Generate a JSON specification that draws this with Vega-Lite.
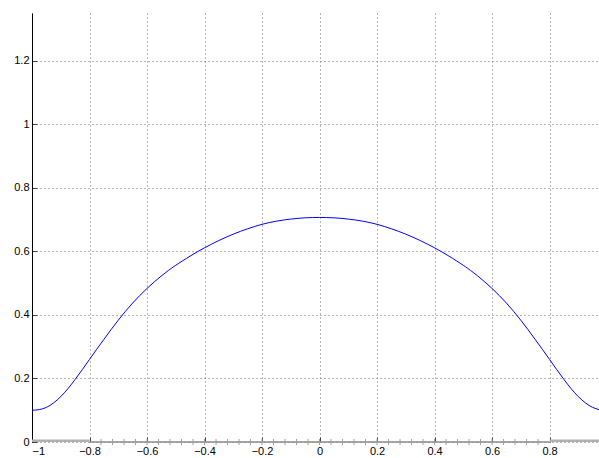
{
  "$schema": "https://vega.github.io/schema/vega-lite/v6.json",
  "autosize": {"type": "none"},
  "padding": {"left": 32, "top": 13, "right": 0, "bottom": 16},
  "width": 567,
  "height": 429,
  "background": "white",
  "config": {
    "view": {"stroke": null},
    "font": "Liberation Sans",
    "axis": {
      "labelFont": "Liberation Sans",
      "labelFontSize": 11,
      "labelColor": "#000000",
      "domainColor": "#000000",
      "domainWidth": 1,
      "tickColor": "#444444",
      "tickSize": -5,
      "tickWidth": 1,
      "labelPadding": 8,
      "format": "~g",
      "grid": true,
      "gridColor": "#6a6a6a",
      "gridDash": [1, 3],
      "gridWidth": 1,
      "title": null
    }
  },
  "datasets": {
    "curve": [
      {"x": -1.0, "y": 0.100},
      {"x": -0.975, "y": 0.102},
      {"x": -0.95, "y": 0.109},
      {"x": -0.925, "y": 0.123},
      {"x": -0.9, "y": 0.143},
      {"x": -0.875, "y": 0.168},
      {"x": -0.85, "y": 0.197},
      {"x": -0.825, "y": 0.228},
      {"x": -0.8, "y": 0.260},
      {"x": -0.775, "y": 0.292},
      {"x": -0.75, "y": 0.323},
      {"x": -0.725, "y": 0.354},
      {"x": -0.7, "y": 0.3835},
      {"x": -0.675, "y": 0.4115},
      {"x": -0.65, "y": 0.4375},
      {"x": -0.625, "y": 0.4615},
      {"x": -0.6, "y": 0.4835},
      {"x": -0.575, "y": 0.504},
      {"x": -0.55, "y": 0.523},
      {"x": -0.525, "y": 0.5405},
      {"x": -0.5, "y": 0.5565},
      {"x": -0.45, "y": 0.5855},
      {"x": -0.4, "y": 0.6115},
      {"x": -0.35, "y": 0.6345},
      {"x": -0.3, "y": 0.6545},
      {"x": -0.25, "y": 0.6715},
      {"x": -0.2, "y": 0.6855},
      {"x": -0.15, "y": 0.6955},
      {"x": -0.1, "y": 0.702},
      {"x": -0.05, "y": 0.706},
      {"x": 0.0, "y": 0.707},
      {"x": 0.05, "y": 0.706},
      {"x": 0.1, "y": 0.702},
      {"x": 0.15, "y": 0.6955},
      {"x": 0.2, "y": 0.6855},
      {"x": 0.25, "y": 0.6715},
      {"x": 0.3, "y": 0.6545},
      {"x": 0.35, "y": 0.6345},
      {"x": 0.4, "y": 0.6115},
      {"x": 0.45, "y": 0.5855},
      {"x": 0.5, "y": 0.5565},
      {"x": 0.525, "y": 0.5405},
      {"x": 0.55, "y": 0.523},
      {"x": 0.575, "y": 0.504},
      {"x": 0.6, "y": 0.4835},
      {"x": 0.625, "y": 0.4615},
      {"x": 0.65, "y": 0.4375},
      {"x": 0.675, "y": 0.4115},
      {"x": 0.7, "y": 0.3835},
      {"x": 0.725, "y": 0.354},
      {"x": 0.75, "y": 0.323},
      {"x": 0.775, "y": 0.292},
      {"x": 0.8, "y": 0.260},
      {"x": 0.825, "y": 0.228},
      {"x": 0.85, "y": 0.197},
      {"x": 0.875, "y": 0.168},
      {"x": 0.9, "y": 0.143},
      {"x": 0.925, "y": 0.123},
      {"x": 0.95, "y": 0.109},
      {"x": 0.972, "y": 0.102}
    ],
    "bands": [
      {"x0": -1.0, "x1": -0.8},
      {"x0": 0.8, "x1": 0.972}
    ],
    "baseline": [
      {"x0": -0.8, "x1": 0.8}
    ],
    "nodes": [
      {"x": -0.76}, {"x": -0.72}, {"x": -0.68}, {"x": -0.64}, {"x": -0.6},
      {"x": -0.56}, {"x": -0.52}, {"x": -0.48}, {"x": -0.44}, {"x": -0.4},
      {"x": -0.36}, {"x": -0.32}, {"x": -0.28}, {"x": -0.24}, {"x": -0.2},
      {"x": -0.16}, {"x": -0.12}, {"x": -0.08}, {"x": -0.04}, {"x": 0.0},
      {"x": 0.04}, {"x": 0.08}, {"x": 0.12}, {"x": 0.16}, {"x": 0.2},
      {"x": 0.24}, {"x": 0.28}, {"x": 0.32}, {"x": 0.36}, {"x": 0.4},
      {"x": 0.44}, {"x": 0.48}, {"x": 0.52}, {"x": 0.56}, {"x": 0.6},
      {"x": 0.64}, {"x": 0.68}, {"x": 0.72}, {"x": 0.76}
    ]
  },
  "layer": [
    {
      "data": {"name": "curve"},
      "mark": {"type": "line", "color": "#0000ff", "strokeWidth": 1, "interpolate": "natural", "clip": true},
      "encoding": {
        "x": {
          "field": "x", "type": "quantitative",
          "scale": {"domain": [-1, 0.972], "nice": false, "zero": false},
          "axis": {"values": [-1, -0.8, -0.6, -0.4, -0.2, 0, 0.2, 0.4, 0.6, 0.8], "domain": false}
        },
        "y": {
          "field": "y", "type": "quantitative",
          "scale": {"domain": [0, 1.351], "nice": false},
          "axis": {"values": [0, 0.2, 0.4, 0.6, 0.8, 1, 1.2]}
        }
      }
    },
    {
      "data": {"name": "baseline"},
      "mark": {"type": "rule", "color": "#8c8c8c", "strokeWidth": 1.5},
      "encoding": {
        "x": {"field": "x0", "type": "quantitative"},
        "x2": {"field": "x1"},
        "y": {"datum": 0}
      }
    },
    {
      "data": {"name": "bands"},
      "mark": {"type": "rule", "color": "#b0b0b0", "strokeWidth": 5, "clip": true},
      "encoding": {
        "x": {"field": "x0", "type": "quantitative"},
        "x2": {"field": "x1"},
        "y": {"datum": 0}
      }
    },
    {
      "data": {"name": "nodes"},
      "mark": {
        "type": "point",
        "shape": "M-1,0L1,0M0,-1L0,1",
        "filled": false,
        "color": "#a0a0a0",
        "strokeWidth": 1,
        "size": 36,
        "opacity": 1
      },
      "encoding": {
        "x": {"field": "x", "type": "quantitative"},
        "y": {"datum": 0}
      }
    }
  ]
}
